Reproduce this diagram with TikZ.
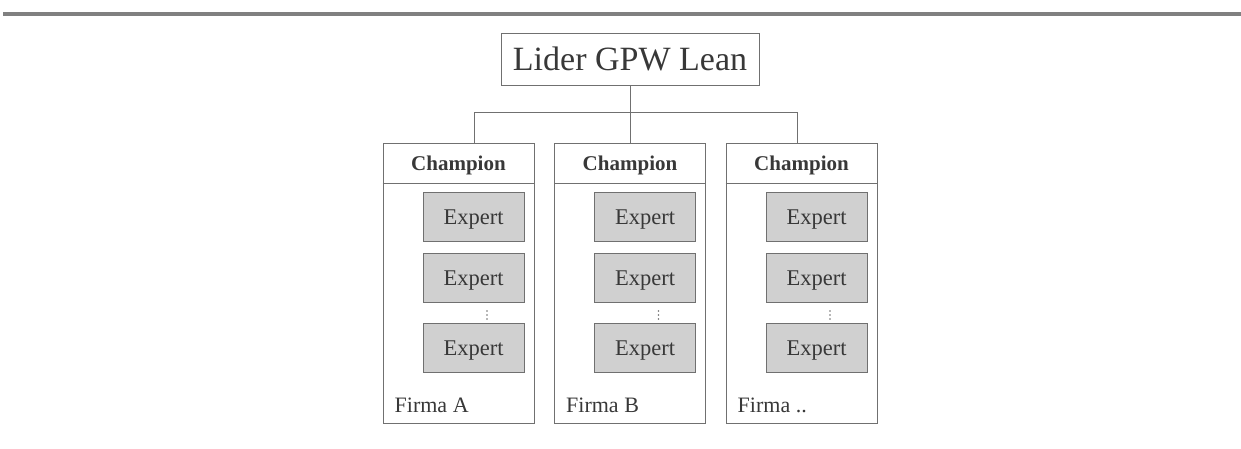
\documentclass[tikz,border=0pt]{standalone}
\usepackage{fontspec}
\setmainfont{Liberation Serif}
\usetikzlibrary{positioning, calc}
\definecolor{lineGray}{HTML}{707070}
\definecolor{textGray}{HTML}{383838}
\definecolor{fillGray}{HTML}{D0D0D0}
\definecolor{barGray}{HTML}{808080}

\begin{document}
\begin{tikzpicture}[x=1pt, y=1pt]

        % --- Styles ---
        \tikzset{
            liderBox/.style={draw=lineGray, line width=1pt, fill=white, text=textGray, minimum width=258pt, minimum height=52pt, inner sep=0pt, text depth=0pt, font=\fontsize{34}{40}\selectfont},
            firmBox/.style={draw=lineGray, line width=1pt, minimum width=151pt, minimum height=280pt, inner sep=0pt},
            expertBox/.style={draw=lineGray, line width=1pt, fill=fillGray, text=textGray, minimum width=101pt, minimum height=49pt, inner sep=0pt, text depth=0pt, font=\fontsize{22.5}{26}\selectfont},
            champText/.style={text=textGray, inner sep=0pt, text depth=0pt, font=\fontsize{21}{25}\selectfont\bfseries},
            firmText/.style={text=textGray, inner sep=0pt, anchor=base west, font=\fontsize{22}{26}\selectfont},
            connLine/.style={draw=lineGray, line width=1pt}
        }

        \useasboundingbox (0,0) rectangle (1241,-448);

        % --- Top bar ---
        \fill[barGray] (3,-12) rectangle (1241,-16);

        % --- Leader ---
        \node[liderBox] (lider) at (630,-59) {Lider GPW Lean};

        % --- Firms ---
        \foreach \name/\cx/\lab in {firmA/458.5/{Firma A}, firmB/630/{Firma B}, firmC/801.5/{Firma ..}} {
            \node[firmBox] (\name) at (\cx,-283) {};
            \draw[connLine] ($(\name.north west)+(0,-41)$) -- ($(\name.north east)+(0,-41)$);
            \node[champText] (\name-champ) at ($(\name.north)+(0,-21)$) {Champion};
            \node[expertBox] (\name-e1) at ($(\name.north)+(15,-74.5)$) {Expert};
            \node[expertBox] (\name-e2) at ($(\name.north)+(15,-135.5)$) {Expert};
            \node[expertBox] (\name-e3) at ($(\name.north)+(15,-205.5)$) {Expert};
            \foreach \dy in {-8,-12,-16}
                \fill[lineGray] ($(\name-e2.south)+(13.5,\dy)$) circle (0.8);
            \node[firmText] (\name-lab) at ($(\name.south west)+(12,11)$) {\lab};
        }

        % --- Connectors ---
        \draw[connLine] (lider.south) -- (firmB.north);
        \draw[connLine] ($(firmA.north)+(15.5,0)$) -- ++(0,30.5) -| ($(firmC.north)+(-4.5,0)$);

\end{tikzpicture}
\end{document}
